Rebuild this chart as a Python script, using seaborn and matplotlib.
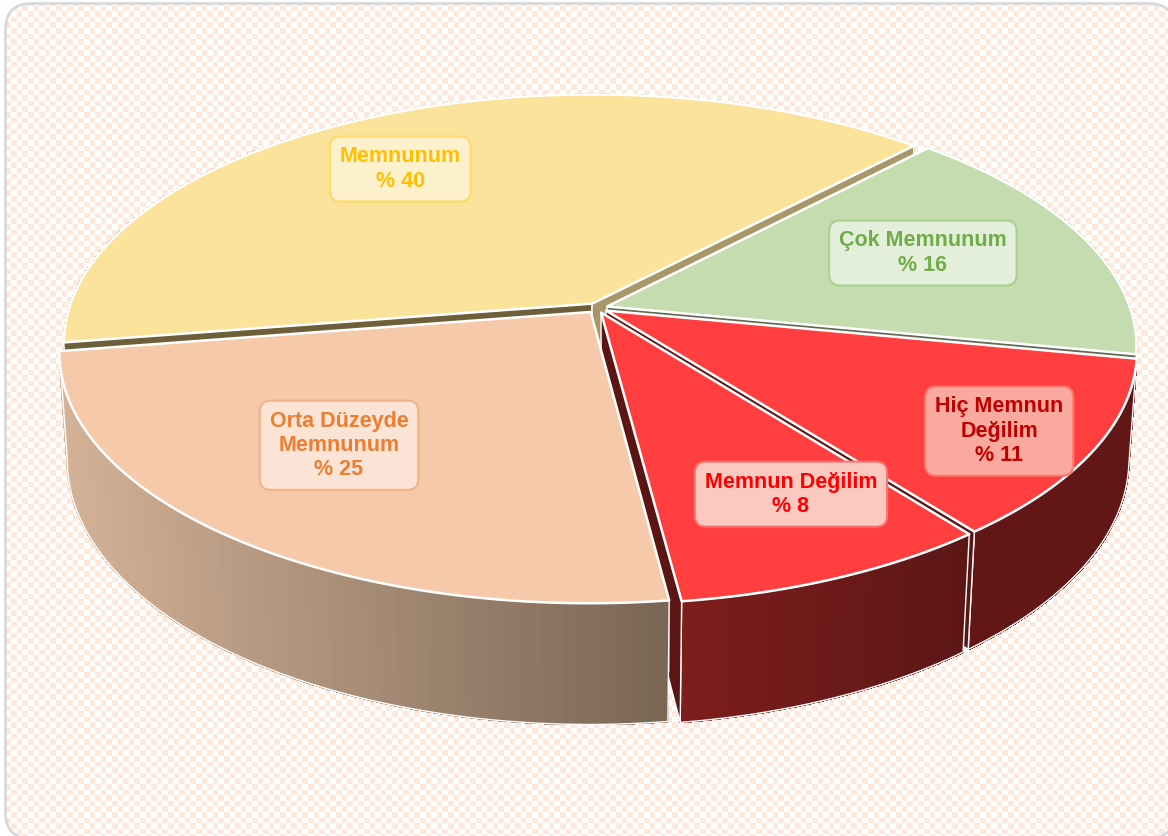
"""Satisfaction survey drawn as an exploded 3D pie."""
import numpy as np
import seaborn as sns
import matplotlib.pyplot as plt
from matplotlib.collections import PolyCollection
from matplotlib.colors import ListedColormap, to_rgb
from matplotlib.patches import FancyBboxPatch, Polygon

# slices clockwise, starting from the green one
names = ["Çok Memnunum", "Hiç Memnun\nDeğilim", "Memnun Değilim",
         "Orta Düzeyde\nMemnunum", "Memnunum"]
shares = [16.0, 11.45, 8.45, 24.55, 39.55]

top_colors = ["#c4dcb0", "#ff3f3f", "#ff3f3f", "#f5c9aa", "#fbe39b"]
text_colors = ["#70ad47", "#c00000", "#ff0000", "#ed7d31", "#ffc000"]
box_fill = ["#e4efdb", "#f9a99d", "#fcc9c1", "#fbe3d5", "#fdf1cd"]
box_edge = ["#a9d08e", "#ff7a6e", "#ff7070", "#f4b183", "#ffd966"]
wall_left = ["#7f9070", "#621616", "#7d1e1c", "#d4b297", "#6e5f3b"]
wall_right = ["#7f9070", "#621616", "#5c1616", "#7a6655", "#a89768"]
# only the cut faces the viewer can see get a colour
cut_start = [None, None, None, None, "#6e5f3b"]
cut_end = ["#5e6b52", "#5c1515", "#5c1515", None, "#a89768"]

# label anchors on the pie plane: angle and radius fraction
label_angle = [70.1, 123.3, 154.1, 221.2, 326.6]
label_radius = [0.677, 0.839, 0.746, 0.677, 0.74]

START = 43.4
EXPLODE = 0.02
RADIUS = 0.985

# camera for the tilted disc, in picture pixels
CX, CY = 597, 308
A, B, C = 531, 247.4, 107.8
K, M = 0.161, 0.0147


def project(u, v, d=0.0):
    w = 1 + K * v + M * d
    return CX + A * u / w, CY - (B * v - C * d) / w


def rim(angles, off, d=0.0):
    t = np.radians(angles)
    return project(off[0] + RADIUS * np.sin(t), off[1] + RADIUS * np.cos(t), d)


sns.set_theme(style="white")
plt.rcParams["font.family"] = ["Liberation Sans", "DejaVu Sans"]

fig = plt.figure(figsize=(11.68, 8.36), dpi=100)

# checkered card behind the pie
bg = fig.add_axes([0, 0, 1, 1])
pitch = 5.6
checks = np.indices((int(836 / pitch) + 1, int(1168 / pitch) + 1)).sum(axis=0) % 2
sns.heatmap(checks, ax=bg, cbar=False, xticklabels=False, yticklabels=False,
            cmap=ListedColormap(["#ffffff", "#fde8dc"]), vmin=0, vmax=1)
bg.set_xlim(0, 1168 / pitch)
bg.set_ylim(836 / pitch, 0)

ax = fig.add_axes([0, 0, 1, 1])
ax.set_xlim(0, 1168)
ax.set_ylim(836, 0)
ax.axis("off")
ax.patch.set_alpha(0)

# flatten the rounded box, its curves go wrong when they run off the canvas
shape = FancyBboxPatch((5.5, 3.5), 1169, 835, boxstyle="round,pad=0,rounding_size=26")
card = Polygon(shape.get_path().to_polygons()[0], fc="none", ec="#d9d9d9", lw=2, zorder=1)
ax.add_patch(card)
bg.collections[0].set_clip_path(card.get_path(), card.get_transform())

edges = START + np.cumsum([0] + shares) * 3.6
z = 2
# back to front; the peach slice goes last so it hides most of the red cut face
for i in [4, 0, 1, 2, 3]:
    a0, a1 = edges[i], edges[i + 1]
    mid = np.radians((a0 + a1) / 2)
    off = (EXPLODE * np.sin(mid), EXPLODE * np.cos(mid))
    apex_top = project(off[0], off[1])
    apex_low = project(off[0], off[1], 1.0)
    angles = np.linspace(a0, a1, 90)

    # outer wall, shaded left to right strip by strip
    xt, yt = rim(angles, off)
    xb, yb = rim(angles, off, 1.0)
    quads = [[(xt[j], yt[j]), (xt[j + 1], yt[j + 1]), (xb[j + 1], yb[j + 1]), (xb[j], yb[j])]
             for j in range(len(angles) - 1)]
    frac = ((xt[:-1] - xt.min()) / np.ptp(xt))[:, None]
    cols = np.array(to_rgb(wall_left[i])) * (1 - frac) + np.array(to_rgb(wall_right[i])) * frac
    ax.add_collection(PolyCollection(quads, facecolors=cols, edgecolors=cols, lw=0.8,
                                     antialiaseds=False, zorder=z))
    outline = np.r_[np.c_[xt, yt], np.c_[xb, yb][::-1]]
    ax.add_patch(Polygon(outline, fc="none", ec="white", lw=1, zorder=z))
    z += 1

    # cut faces show through the gaps between slices
    for ang, col in [(a0, cut_start[i]), (a1, cut_end[i])]:
        if col is None:
            continue
        xe, ye = rim(ang, off)
        xl, yl = rim(ang, off, 1.0)
        ax.add_patch(Polygon([apex_top, (xe, ye), (xl, yl), apex_low], fc=col,
                             ec="white", lw=1, zorder=z))
    z += 1

    # top face
    ax.add_patch(Polygon(np.r_[[apex_top], np.c_[xt, yt]], fc=top_colors[i], ec="white",
                         lw=1.8, joinstyle="round", zorder=z))
    z += 1

for i, name in enumerate(names):
    t = np.radians(label_angle[i])
    x, y = project(label_radius[i] * np.sin(t), label_radius[i] * np.cos(t))
    ax.text(x, y, f"{name}\n% {round(shares[i])}", color=text_colors[i], fontsize=15.5,
            fontweight="bold", ha="center", va="center", linespacing=1.2, zorder=50,
            bbox=dict(boxstyle="round,pad=0.46,rounding_size=0.5",
                      fc=box_fill[i], ec=box_edge[i], lw=1.5))

fig.savefig("out.png", dpi=100)
plt.close()
